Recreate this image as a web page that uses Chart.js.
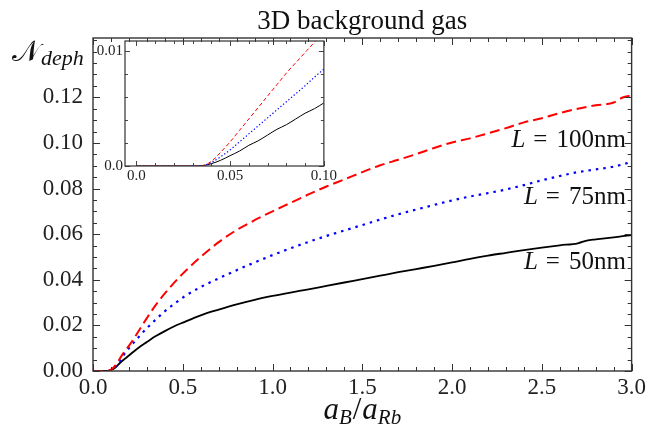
<!DOCTYPE html>
<html><head><meta charset="utf-8">
<script src="https://cdn.jsdelivr.net/npm/chart.js@4.4.0/dist/chart.umd.min.js"></script>
<style>
html,body{margin:0;padding:0;background:#fff;}
#wrap{position:relative;width:649px;height:432px;overflow:hidden;}
#main{position:absolute;left:0;top:0;width:649px;height:432px;}
#inset{position:absolute;left:93px;top:30px;width:245px;height:160px;}
</style></head><body>
<div id="wrap"><canvas id="main" width="649" height="432"></canvas><canvas id="inset" width="245" height="160"></canvas></div>
<script>
// ---------- main panel data ----------
const xs = [0, 0.05, 0.08, 0.1, 0.125, 0.15, 0.175, 0.2, 0.25, 0.3, 0.35, 0.4, 0.45, 0.5, 0.6, 0.7, 0.8, 0.9, 1.0, 1.1, 1.2, 1.3, 1.4, 1.5, 1.6, 1.7, 1.8, 1.9, 2.0, 2.1, 2.2, 2.3, 2.4, 2.5, 2.6, 2.7, 2.75, 2.8, 2.9, 2.95, 3.0];
const L50  = [0, 0, 0, 0.0004, 0.0015, 0.0035, 0.0052, 0.0068, 0.0100, 0.0127, 0.0153, 0.0175, 0.0195, 0.0212, 0.0244, 0.0269, 0.0292, 0.0312, 0.0329, 0.0344, 0.0358, 0.0373, 0.0388, 0.0403, 0.0418, 0.0433, 0.0447, 0.0461, 0.0476, 0.0492, 0.0506, 0.0518, 0.0530, 0.0541, 0.0551, 0.0560, 0.0572, 0.0577, 0.0586, 0.0591, 0.0596];
const L75  = [0, 0, 0, 0.0005, 0.0020, 0.0045, 0.0075, 0.0100, 0.0145, 0.0188, 0.0226, 0.0262, 0.0293, 0.0322, 0.0368, 0.0406, 0.0442, 0.0476, 0.0508, 0.0538, 0.0566, 0.0592, 0.0616, 0.0640, 0.0664, 0.0687, 0.0708, 0.0728, 0.0748, 0.0765, 0.0780, 0.0796, 0.0815, 0.0836, 0.0855, 0.0872, 0.0878, 0.0884, 0.0896, 0.0906, 0.0917];
const L100 = [0, 0, 0, 0.0006, 0.0025, 0.0055, 0.0085, 0.0110, 0.0170, 0.0232, 0.0290, 0.0340, 0.0385, 0.0427, 0.0500, 0.0565, 0.0618, 0.0661, 0.0700, 0.0737, 0.0774, 0.0809, 0.0840, 0.0872, 0.0902, 0.0926, 0.0951, 0.0978, 0.1002, 0.1020, 0.1042, 0.1065, 0.1090, 0.1108, 0.1131, 0.1150, 0.1158, 0.1165, 0.1177, 0.1199, 0.1209];
const xTicks = [0, 0.5, 1.0, 1.5, 2.0, 2.5, 3.0];
const xTickLabels = ['0.0', '0.5', '1.0', '1.5', '2.0', '2.5', '3.0'];
const yTicks = [0, 0.02, 0.04, 0.06, 0.08, 0.10, 0.12];
const yTickLabels = ['0.00', '0.02', '0.04', '0.06', '0.08', '0.10', '0.12'];
const seriesNames = ['L = 100nm', 'L = 75nm', 'L = 50nm'];
const seriesValues = ['100nm', '75nm', '50nm'];

// ---------- inset data ----------
const ixs = [0, 0.01, 0.02, 0.03, 0.035, 0.04, 0.045, 0.05, 0.055, 0.06, 0.065, 0.07, 0.075, 0.08, 0.085, 0.09, 0.095, 0.1];
const iL50  = [0, 0, 0, 0, 0.00002, 0.0002, 0.0005, 0.0009, 0.0013, 0.0018, 0.0022, 0.0027, 0.0032, 0.0036, 0.0041, 0.0046, 0.0050, 0.0055];
const iL75  = [0, 0, 0, 0, 0.00003, 0.0003, 0.0008, 0.0014, 0.0021, 0.0028, 0.0035, 0.0042, 0.0049, 0.0056, 0.0063, 0.0070, 0.00775, 0.00845];
const iL100 = [0, 0, 0, 0, 0.00003, 0.0004, 0.0012, 0.0021, 0.0031, 0.0041, 0.0051, 0.0061, 0.0071, 0.0081, 0.0090, 0.0099, 0.0108, 0.0117];
const ixTicks = [0, 0.05, 0.10];
const ixTickLabels = ['0.0', '0.05', '0.10'];
const iyTicks = [0, 0.01];
const iyTickLabels = ['0.0', '0.01'];

const SERIF = '"Liberation Serif", "DejaVu Serif", serif';
const AXIS = '#333';

function pts(x, y) { return x.map((v, i) => ({x: v, y: y[i]})); }

function frameTicks(id, o) {
  return {
    id: id,
    afterDatasetsDraw(chart) {
      const {ctx, chartArea: a, scales: {x, y}} = chart;
      ctx.save();
      ctx.strokeStyle = AXIS;
      ctx.lineWidth = o.tickW;
      const doTicks = (scale, step, majors, horiz) => {
        const start = Math.ceil(scale.min / step - 1e-6);
        for (let i = start; i * step <= scale.max + 1e-9; i++) {
          const v = i * step;
          const isMajor = majors.some(m => Math.abs(m - v) < step * 0.01);
          const L = isMajor ? o.major : o.minor;
          const p = Math.round(scale.getPixelForValue(v)) + 0.5;
          ctx.beginPath();
          if (horiz) {
            ctx.moveTo(p, a.bottom); ctx.lineTo(p, a.bottom - L);
            ctx.moveTo(p, a.top); ctx.lineTo(p, a.top + L);
          } else {
            ctx.moveTo(a.left, p); ctx.lineTo(a.left + L, p);
            ctx.moveTo(a.right, p); ctx.lineTo(a.right - L, p);
          }
          ctx.stroke();
        }
      };
      doTicks(x, o.xStep, o.xMajors, true);
      doTicks(y, o.yStep, o.yMajors, false);
      ctx.lineWidth = o.frameW;
      ctx.strokeRect(a.left, a.top, a.right - a.left, a.bottom - a.top);
      ctx.restore();
    }
  };
}

function drawParts(ctx, parts, cx, baseY, align) {
  let total = 0;
  parts.forEach(p => { ctx.font = p.font; p.w = ctx.measureText(p.t).width; total += p.w + (p.gap || 0); });
  let x = align === 'center' ? cx - total / 2 : (align === 'right' ? cx - total : cx);
  ctx.textAlign = 'left';
  ctx.textBaseline = 'alphabetic';
  parts.forEach(p => {
    ctx.font = p.font;
    ctx.fillText(p.t, x, baseY + (p.dy || 0));
    x += p.w + (p.gap || 0);
  });
}

const textPlugin = {
  id: 'texts',
  afterDraw(chart) {
    const {ctx, chartArea: a, scales: {x, y}} = chart;
    ctx.save();
    ctx.fillStyle = '#111';
    // title
    ctx.font = '27px "Liberation Serif", serif';
    ctx.textAlign = 'center';
    ctx.textBaseline = 'alphabetic';
    ctx.fillText('3D background gas', (a.left + a.right) / 2, 29);
    // x title
    drawParts(ctx, [
      {t: 'a', font: 'italic 31px ' + SERIF},
      {t: 'B', font: 'italic 21px ' + SERIF, dy: 5, gap: 1},
      {t: '/', font: '31px ' + SERIF, gap: 1},
      {t: 'a', font: 'italic 31px ' + SERIF},
      {t: 'Rb', font: 'italic 21px ' + SERIF, dy: 5}
    ], (a.left + a.right) / 2, 419, 'center');
    // y title
    drawParts(ctx, [
      {t: '\u{1D4A9}', font: '29px "DejaVu Sans", "Noto Sans", ' + SERIF, gap: 1},
      {t: 'deph', font: 'italic 22px ' + SERIF, dy: 4}
    ], 12, 61, 'left');
    // curve labels
    const labelX = x.getPixelForValue(2.968);
    const labelY = [0.1005, 0.0752, 0.0468];
    seriesValues.forEach((v, i) => {
      drawParts(ctx, [
        {t: 'L', font: 'italic 25px ' + SERIF, gap: 8},
        {t: '=', font: '25px ' + SERIF, gap: 9},
        {t: v, font: '25px ' + SERIF}
      ], labelX, y.getPixelForValue(labelY[i]) + 5, 'right');
    });
    ctx.restore();
  }
};

new Chart(document.getElementById('main'), {
  type: 'line',
  data: {
    datasets: [
      {label: seriesNames[0], data: pts(xs, L100), borderColor: '#ff0000', borderWidth: 2, borderDash: [10, 5], pointRadius: 0, cubicInterpolationMode: 'monotone', fill: false},
      {label: seriesNames[1], data: pts(xs, L75), borderColor: '#0000ff', borderWidth: 2.2, borderDash: [2.5, 5], pointRadius: 0, cubicInterpolationMode: 'monotone', fill: false},
      {label: seriesNames[2], data: pts(xs, L50), borderColor: '#000000', borderWidth: 1.8, pointRadius: 0, cubicInterpolationMode: 'monotone', fill: false}
    ]
  },
  options: {
    responsive: false, animation: false, devicePixelRatio: 1,
    layout: {padding: {left: 0, right: 17, top: 38, bottom: 0}},
    plugins: {legend: {display: false}, tooltip: {enabled: false}, title: {display: false}},
    scales: {
      x: {
        type: 'linear', min: 0, max: 3,
        afterBuildTicks: s => { s.ticks = xTicks.map(v => ({value: v})); },
        afterFit: s => { s.height = 61; },
        grid: {display: false, drawTicks: false}, border: {display: false},
        ticks: {padding: 3, color: '#222', maxRotation: 0, autoSkip: false, font: {family: SERIF, size: 23}, callback: (v, i) => xTickLabels[i]}
      },
      y: {
        type: 'linear', min: 0, max: 0.146,
        afterBuildTicks: s => { s.ticks = yTicks.map(v => ({value: v})); },
        afterFit: s => { s.width = 93; },
        grid: {display: false, drawTicks: false}, border: {display: false},
        ticks: {padding: 10, color: '#222', autoSkip: false, font: {family: SERIF, size: 23}, callback: (v, i) => yTickLabels[i]}
      }
    }
  },
  plugins: [frameTicks('mainFrame', {tickW: 1, frameW: 1.4, major: 7, minor: 4, xStep: 0.1, xMajors: xTicks, yStep: 0.005, yMajors: yTicks}), textPlugin]
});

new Chart(document.getElementById('inset'), {
  type: 'line',
  data: {
    datasets: [
      {data: pts(ixs, iL100), borderColor: '#ff0000', borderWidth: 1, borderDash: [4, 2.5], pointRadius: 0, cubicInterpolationMode: 'monotone', fill: false},
      {data: pts(ixs, iL75), borderColor: '#0000ff', borderWidth: 1.2, borderDash: [1.3, 2.2], pointRadius: 0, cubicInterpolationMode: 'monotone', fill: false},
      {data: pts(ixs, iL50), borderColor: '#000000', borderWidth: 1, pointRadius: 0, cubicInterpolationMode: 'monotone', fill: false}
    ]
  },
  options: {
    responsive: false, animation: false, devicePixelRatio: 1,
    layout: {padding: {left: 0, right: 11, top: 8, bottom: 0}},
    plugins: {legend: {display: false}, tooltip: {enabled: false}},
    scales: {
      x: {
        type: 'linear', min: -0.006, max: 0.1,
        afterBuildTicks: s => { s.ticks = ixTicks.map(v => ({value: v})); },
        afterFit: s => { s.height = 24; },
        grid: {display: false, drawTicks: false}, border: {display: false},
        ticks: {padding: 1, color: '#222', maxRotation: 0, autoSkip: false, font: {family: SERIF, size: 15}, callback: (v, i) => ixTickLabels[i]}
      },
      y: {
        type: 'linear', min: 0, max: 0.0109,
        afterBuildTicks: s => { s.ticks = iyTicks.map(v => ({value: v})); },
        afterFit: s => { s.width = 32; },
        grid: {display: false, drawTicks: false}, border: {display: false},
        ticks: {padding: 2, color: '#222', autoSkip: false, font: {family: SERIF, size: 15}, callback: (v, i) => iyTickLabels[i]}
      }
    }
  },
  plugins: [frameTicks('insetFrame', {tickW: 0.9, frameW: 1.2, major: 5, minor: 3, xStep: 0.01, xMajors: ixTicks, yStep: 0.002, yMajors: iyTicks})]
});
</script>
</body></html>
